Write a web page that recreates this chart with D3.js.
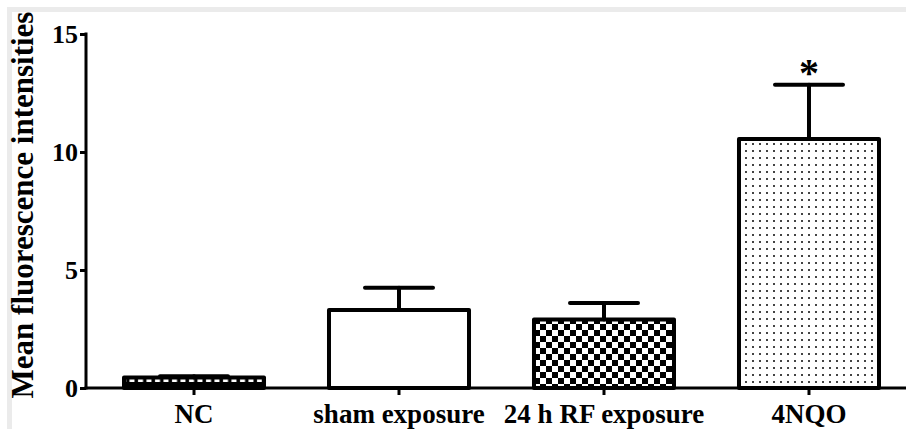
<!DOCTYPE html>
<html>
<head>
<meta charset="utf-8">
<script src="https://cdn.jsdelivr.net/npm/d3@7"></script>
<style>
  html, body { margin: 0; padding: 0; background: #fff; }
  svg { display: block; }
</style>
</head>
<body>
<svg id="chart"></svg>
<script>
// data
const groups = ["NC", "sham exposure", "24 h RF exposure", "4NQO"];
const means = [0.45, 3.3, 2.9, 10.55];
const errors = [0.05, 0.95, 0.7, 2.3];
const fills = ["url(#bricks)", "#fff", "url(#checker)", "url(#dots)"];
const yTicks = [0, 5, 10, 15];
const marked = ["4NQO"];

const width = 906, height = 429;
const axisX = 86, axisY = 388, topY = 34;
const font = "'Liberation Serif', 'Times New Roman', serif";

const svg = d3.select("#chart")
  .attr("width", width)
  .attr("height", height)
  .style("background", "#fff");

// patterns
const defs = svg.append("defs");

const bricks = defs.append("pattern")
  .attr("id", "bricks").attr("patternUnits", "userSpaceOnUse")
  .attr("width", 8.5).attr("height", 8);
bricks.append("rect").attr("width", 8.5).attr("height", 8).attr("fill", "#000");
bricks.append("rect").attr("x", 2).attr("y", 2.5).attr("width", 5).attr("height", 3.5).attr("fill", "#fff");

const checker = defs.append("pattern")
  .attr("id", "checker").attr("patternUnits", "userSpaceOnUse")
  .attr("width", 12).attr("height", 12);
checker.append("rect").attr("width", 12).attr("height", 12).attr("fill", "#fff");
checker.append("rect").attr("width", 6).attr("height", 6).attr("fill", "#000");
checker.append("rect").attr("x", 6).attr("y", 6).attr("width", 6).attr("height", 6).attr("fill", "#000");

const dots = defs.append("pattern")
  .attr("id", "dots").attr("patternUnits", "userSpaceOnUse")
  .attr("width", 7).attr("height", 7);
dots.append("rect").attr("width", 7).attr("height", 7).attr("fill", "#fff");
dots.append("rect").attr("x", 3).attr("y", 3).attr("width", 2).attr("height", 2).attr("fill", "#444");

// light grey frame strip (top and left)
svg.append("rect").attr("x", 7).attr("y", 7).attr("width", width).attr("height", 5).attr("fill", "#ebebeb");
svg.append("rect").attr("x", 7).attr("y", 7).attr("width", 5).attr("height", height).attr("fill", "#ebebeb");

// scales
const x = d3.scaleBand()
  .domain(groups)
  .range([124, 879])
  .paddingInner(0.317)
  .paddingOuter(0);

const y = d3.scaleLinear()
  .domain([0, 15])
  .range([axisY, topY]);

// bars
svg.append("g")
  .selectAll("rect")
  .data(groups)
  .join("rect")
  .attr("x", d => x(d))
  .attr("y", (d, i) => y(means[i]))
  .attr("width", x.bandwidth())
  .attr("height", (d, i) => axisY - y(means[i]))
  .attr("fill", (d, i) => fills[i])
  .attr("stroke", "#000")
  .attr("stroke-width", 4)
  .attr("stroke-linejoin", "round");

// error bars (upper only)
const eb = svg.append("g")
  .selectAll("g")
  .data(groups)
  .join("g")
  .attr("stroke", "#000")
  .attr("stroke-width", 4)
  .attr("stroke-linecap", "round");

eb.append("line")
  .attr("x1", d => x(d) + x.bandwidth() / 2)
  .attr("x2", d => x(d) + x.bandwidth() / 2)
  .attr("y1", (d, i) => y(means[i]))
  .attr("y2", (d, i) => y(means[i] + errors[i]));

eb.append("line")
  .attr("x1", d => x(d) + x.bandwidth() / 2 - 34)
  .attr("x2", d => x(d) + x.bandwidth() / 2 + 34)
  .attr("y1", (d, i) => y(means[i] + errors[i]))
  .attr("y2", (d, i) => y(means[i] + errors[i]));

// significance star
svg.append("g")
  .selectAll("text")
  .data(marked)
  .join("text")
  .attr("x", d => x(d) + x.bandwidth() / 2)
  .attr("y", d => y(means[groups.indexOf(d)] + errors[groups.indexOf(d)]) + 1)
  .attr("text-anchor", "middle")
  .style("font-family", font)
  .style("font-weight", "bold")
  .style("font-size", "40px")
  .text("*");

// y axis
const yAxis = d3.axisLeft(y).tickValues(yTicks).tickSize(6).tickPadding(2);
const gY = svg.append("g")
  .attr("transform", `translate(${axisX},0)`)
  .call(yAxis);
gY.select(".domain").remove();
gY.append("line")
  .attr("y1", topY - 1.5).attr("y2", axisY + 1.5)
  .attr("stroke", "#000").attr("stroke-width", 3);
gY.selectAll(".tick line").attr("stroke", "#000").attr("stroke-width", 3);
gY.selectAll(".tick text")
  .attr("fill", "#000")
  .style("font-family", font)
  .style("font-weight", "bold")
  .style("font-size", "26px");

// x axis
const xAxis = d3.axisBottom(x).tickSize(7).tickPadding(6);
const gX = svg.append("g")
  .attr("transform", `translate(0,${axisY})`)
  .call(xAxis);
gX.select(".domain").remove();
gX.append("line")
  .attr("x1", axisX - 1.5).attr("x2", width)
  .attr("stroke", "#000").attr("stroke-width", 3);
gX.selectAll(".tick line").attr("stroke", "#000").attr("stroke-width", 3);
gX.selectAll(".tick text")
  .attr("fill", "#000")
  .attr("dy", "0.8em")
  .style("font-family", font)
  .style("font-weight", "bold")
  .style("font-size", "27px");

// y axis title
svg.append("text")
  .attr("transform", "translate(33,205) rotate(-90)")
  .attr("text-anchor", "middle")
  .style("font-family", font)
  .style("font-weight", "bold")
  .style("font-size", "31px")
  .text("Mean fluorescence intensities");
</script>
</body>
</html>
